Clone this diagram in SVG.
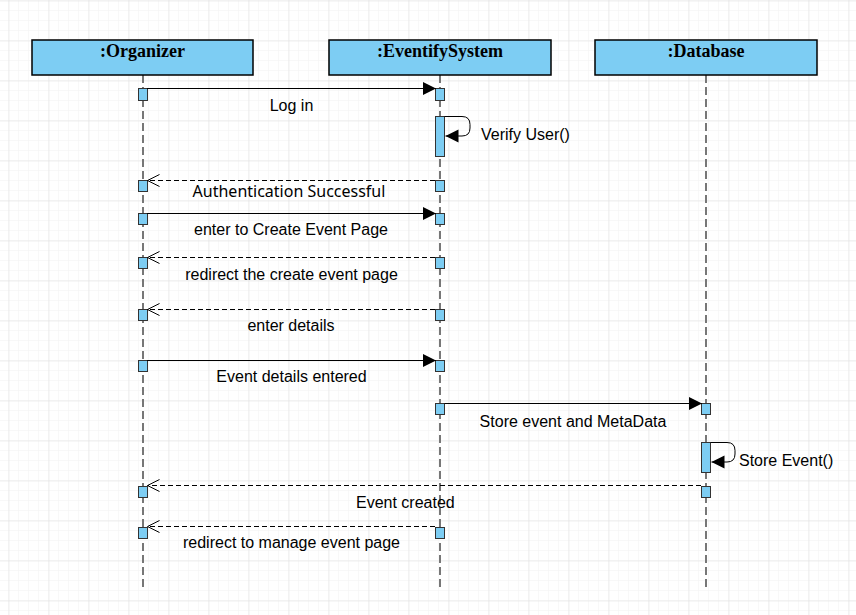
<svg xmlns="http://www.w3.org/2000/svg" width="856" height="615" viewBox="0 0 856 615">
<defs>
<pattern id="minor" width="10" height="10" patternUnits="userSpaceOnUse" x="8" y="0">
<path d="M0 0H10M0 0V10" fill="none" stroke="#f2f2f2" stroke-width="1"/>
</pattern>
<pattern id="major" width="40" height="40" patternUnits="userSpaceOnUse" x="8.5" y="0.5">
<path d="M0 0H40M0 0V40" fill="none" stroke="#e0e0e0" stroke-width="1"/>
</pattern>
<marker id="fill" viewBox="0 0 14 14" refX="13" refY="7" markerWidth="14" markerHeight="14" markerUnits="userSpaceOnUse" orient="auto">
<path d="M0 0.5L13 7L0 13.5Z" fill="#000"/>
</marker>
<marker id="open" viewBox="0 0 14 14" refX="13" refY="7" markerWidth="14" markerHeight="14" markerUnits="userSpaceOnUse" orient="auto">
<path d="M1 1L13 7L1 13" fill="none" stroke="#000" stroke-width="1"/>
</marker>
</defs>
<style>
.head{fill:#7dcdf3;stroke:#000;stroke-width:1.5}
.title{font-family:"Liberation Serif",serif;font-weight:bold;font-size:18px;text-anchor:middle;fill:#000}
.life{stroke:#777;stroke-width:2;stroke-dasharray:8 4;fill:none}
.act{fill:#7dcdf3;stroke:#333;stroke-width:1}
.msg{stroke:#000;stroke-width:1;fill:none}
.sync{marker-end:url(#fill)}
.ret{stroke-dasharray:5 3;marker-end:url(#open)}
.lbl{font-family:"Liberation Sans",Arial,sans-serif;font-size:16px;fill:#000}
.mid{text-anchor:middle}
</style>
<rect width="856" height="615" fill="#fff"/>
<rect width="856" height="615" fill="url(#minor)"/>
<rect width="856" height="615" fill="url(#major)"/>

<g id="organizer">
<line class="life" x1="143" y1="75" x2="143" y2="590"/>
<rect class="head" x="32" y="40" width="221" height="35"/>
<text class="title" x="142.5" y="57">:Organizer</text>
</g>
<g id="eventify-system">
<line class="life" x1="440" y1="75" x2="440" y2="590"/>
<rect class="head" x="329" y="40" width="222" height="35"/>
<text class="title" x="440" y="57">:EventifySystem</text>
</g>
<g id="database">
<line class="life" x1="706" y1="75" x2="706" y2="590"/>
<rect class="head" x="595" y="40" width="222" height="35"/>
<text class="title" x="706" y="57">:Database</text>
</g>

<g id="activations">
<rect class="act" x="138.5" y="88.5" width="9" height="12"/>
<rect class="act" x="435.5" y="88.5" width="9" height="12"/>
<rect class="act" x="435.5" y="116.5" width="9" height="40"/>
<rect class="act" x="138.5" y="180.5" width="9" height="11"/>
<rect class="act" x="435.5" y="180.5" width="9" height="11"/>
<rect class="act" x="138.5" y="213.5" width="9" height="11"/>
<rect class="act" x="435.5" y="213.5" width="9" height="11"/>
<rect class="act" x="138.5" y="257.5" width="9" height="11"/>
<rect class="act" x="435.5" y="257.5" width="9" height="11"/>
<rect class="act" x="138.5" y="309.5" width="9" height="11"/>
<rect class="act" x="435.5" y="309.5" width="9" height="11"/>
<rect class="act" x="138.5" y="360.5" width="9" height="11"/>
<rect class="act" x="435.5" y="360.5" width="9" height="11"/>
<rect class="act" x="435.5" y="403.5" width="9" height="11"/>
<rect class="act" x="701.5" y="403.5" width="9" height="11"/>
<rect class="act" x="701.5" y="442.5" width="9" height="30"/>
<rect class="act" x="138.5" y="486.5" width="9" height="11"/>
<rect class="act" x="701.5" y="486.5" width="9" height="11"/>
<rect class="act" x="138.5" y="527.5" width="9" height="11"/>
<rect class="act" x="435.5" y="527.5" width="9" height="11"/>
</g>

<g id="connectors">
<line class="msg sync" x1="147" y1="88.5" x2="436" y2="88.5"/>
<path class="msg sync" d="M444.5 116.5H462Q470 116.5 470 124.5V128Q470 136 462 136H445.5"/>
<line class="msg ret" x1="435" y1="180.5" x2="147.5" y2="180.5"/>
<line class="msg sync" x1="147" y1="213.5" x2="436" y2="213.5"/>
<line class="msg ret" x1="435" y1="257.5" x2="147.5" y2="257.5"/>
<line class="msg ret" x1="435" y1="309.5" x2="147.5" y2="309.5"/>
<line class="msg sync" x1="147" y1="360.5" x2="436" y2="360.5"/>
<line class="msg sync" x1="444.5" y1="403.5" x2="702" y2="403.5"/>
<path class="msg sync" d="M710.5 442.5H727Q735 442.5 735 450.5V454Q735 462 727 462H711.5"/>
<line class="msg ret" x1="701" y1="485.5" x2="147.5" y2="485.5"/>
<line class="msg ret" x1="435" y1="526.5" x2="147.5" y2="526.5"/>
</g>

<g id="labels">
<text class="lbl mid" x="291.5" y="110.5">Log in</text>
<text class="lbl" x="481" y="139.5">Verify User()</text>
<text class="mid" x="289" y="197" font-family="'Noto Sans','Open Sans',sans-serif" font-size="16">Authentication Successful</text>
<text class="lbl mid" x="291" y="234.5">enter to Create Event Page</text>
<text class="lbl mid" x="291.5" y="279.5">redirect the create event page</text>
<text class="lbl mid" x="291" y="330.5">enter details</text>
<text class="lbl mid" x="291.5" y="381.5">Event details entered</text>
<text class="lbl mid" x="573" y="426.5">Store event and MetaData</text>
<text class="lbl" x="739" y="465.5">Store Event()</text>
<text class="lbl" x="356" y="507.5">Event created</text>
<text class="lbl mid" x="291.5" y="547.5">redirect to manage event page</text>
</g>
</svg>
